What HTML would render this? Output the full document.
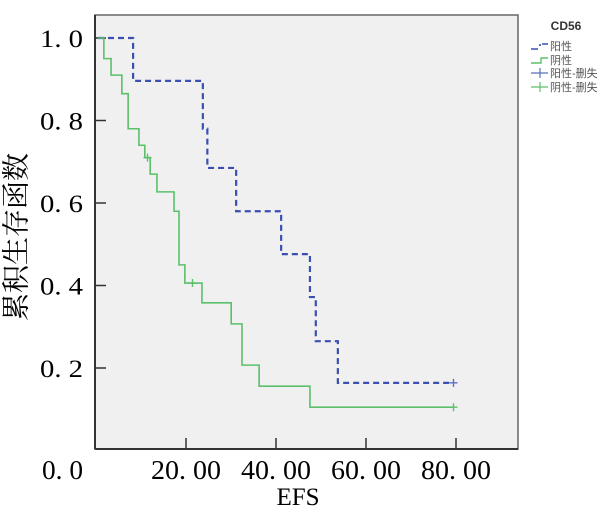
<!DOCTYPE html>
<html><head><meta charset="utf-8"><style>
html,body{margin:0;padding:0;background:#fff;width:614px;height:531px;overflow:hidden}
svg text{font-family:"Liberation Serif","Noto Serif CJK SC",serif}
</style></head><body>
<svg width="614" height="531" viewBox="0 0 614 531">
<rect x="95" y="15" width="423" height="434" fill="#f0f0f0" stroke="#666" stroke-width="1.5"/>
<line x1="95" y1="15" x2="95" y2="449" stroke="#333" stroke-width="2"/>
<line x1="95" y1="449" x2="518" y2="449" stroke="#333" stroke-width="2"/>
<g id="axes"></g>
<g id="series"></g>
<text x="19" y="237" font-size="28" text-anchor="middle" textLength="168" lengthAdjust="spacingAndGlyphs" transform="rotate(-90 19 237)" dominant-baseline="middle">累积生存函数</text>
<text x="298" y="505" font-size="25" text-anchor="middle">EFS</text>
<g>
<text x="566" y="30" font-size="12" font-weight="bold" fill="#333" text-anchor="middle" style="font-family:'Liberation Sans',sans-serif">CD56</text>
<path d="M531 49 H538 M540 46 V44 M542 44 H548" stroke="#3a4fb0" stroke-width="1.6" fill="none"/>
<text x="550" y="50" font-size="11" fill="#555" style="font-family:'Liberation Sans','Noto Sans CJK SC',sans-serif">阳性</text>
<path d="M531 63 H541 V58 H548" stroke="#5cc06a" stroke-width="1.4" fill="none"/>
<text x="550" y="64" font-size="11" fill="#555" style="font-family:'Liberation Sans','Noto Sans CJK SC',sans-serif">阴性</text>
<path d="M531 73 H548 M540 68 V78" stroke="#5a6fc0" stroke-width="1.2" fill="none"/>
<text x="550" y="77" font-size="11" fill="#555" style="font-family:'Liberation Sans','Noto Sans CJK SC',sans-serif">阳性-删失</text>
<path d="M531 87 H548 M540 82 V92" stroke="#5cc06a" stroke-width="1.2" fill="none"/>
<text x="550" y="91" font-size="11" fill="#555" style="font-family:'Liberation Sans','Noto Sans CJK SC',sans-serif">阴性-删失</text>
</g>
</svg>
<script>
const yTicks=[1.0,0.8,0.6,0.4,0.2,0.0];
const yTickLabels=["1. 0","0. 8","0. 6","0. 4","0. 2","0. 0"];
const xTicks=[20,40,60,80];
const xTickLabels=["20. 00","40. 00","60. 00","80. 00"];
const posTimes=[0,7.8,23.3,24.3,30.7,40.7,47.1,48.4,53.3,79];
const posSurv=[1.0,0.896,0.78,0.685,0.58,0.476,0.372,0.265,0.164,0.164];
const negTimes=[0,1.3,2.9,5.3,6.7,9.1,10.4,11.6,13.1,16.9,18.0,19.3,23.1,29.6,32.0,35.8,47.1,79];
const negSurv=[1.0,0.95,0.91,0.865,0.78,0.74,0.71,0.67,0.627,0.58,0.45,0.406,0.358,0.307,0.207,0.156,0.105,0.105];
const posCensT=[79];const posCensS=[0.164];
const negCensT=[11.0,21.0,79];const negCensS=[0.71,0.406,0.105];
const NS="http://www.w3.org/2000/svg";
function xs(t){return 98+t*4.5;}
function ys(v){return 38+(1-v)*412.5;}
const ax=document.getElementById('axes'),se=document.getElementById('series');
function mk(tag,attrs,parent){const e=document.createElementNS(NS,tag);for(const k in attrs)e.setAttribute(k,attrs[k]);parent.appendChild(e);return e;}
yTicks.forEach((v,i)=>{
 let t;
 if(v>0){const l=mk('line',{x1:95,x2:106,y1:ys(v),y2:ys(v),stroke:'#333','stroke-width':1.5},ax);
 
 
 t=mk('text',{x:40,y:ys(v)+9,'font-size':25,textLength:43,lengthAdjust:'spacingAndGlyphs'},ax);}
 else{t=mk('text',{x:42,y:479,'font-size':27,textLength:41,lengthAdjust:'spacingAndGlyphs'},ax);}
 t.textContent=yTickLabels[i];
 
 
});
xTicks.forEach((v,i)=>{
 const x=xs(v)-2;
 const l=mk('line',{x1:x,x2:x,y1:449,y2:438,stroke:'#333','stroke-width':1.5},ax);
 
 
 const t=mk('text',{x:x-35,y:479,'font-size':27,textLength:70,lengthAdjust:'spacingAndGlyphs'},ax);
 t.textContent=xTickLabels[i];
 
 
});
function stepPath(T,S){let d='M'+xs(T[0])+' '+ys(S[0]);for(let i=1;i<T.length;i++){d+=' H'+xs(T[i])+' V'+ys(S[i]);}return d;}
const p1=mk('path',{d:stepPath(posTimes,posSurv),fill:'none',stroke:'#3a4fb0','stroke-width':2.2,'stroke-dasharray':'6 4'},se);


const p2=mk('path',{d:stepPath(negTimes,negSurv),fill:'none',stroke:'#5cc06a','stroke-width':1.6},se);


function cens(T,S,c,name){T.forEach((t,i)=>{const x=xs(t),y=ys(S[i]);
 const p=mk('path',{d:`M${x-4} ${y} H${x+4} M${x} ${y-4} V${y+4}`,stroke:c,'stroke-width':1.4},se);
 
 });}
cens(posCensT,posCensS,'#5a6fc0','positive-censor-mark');
cens(negCensT,negCensS,'#5cc06a','negative-censor-mark');
</script>
</body></html>
